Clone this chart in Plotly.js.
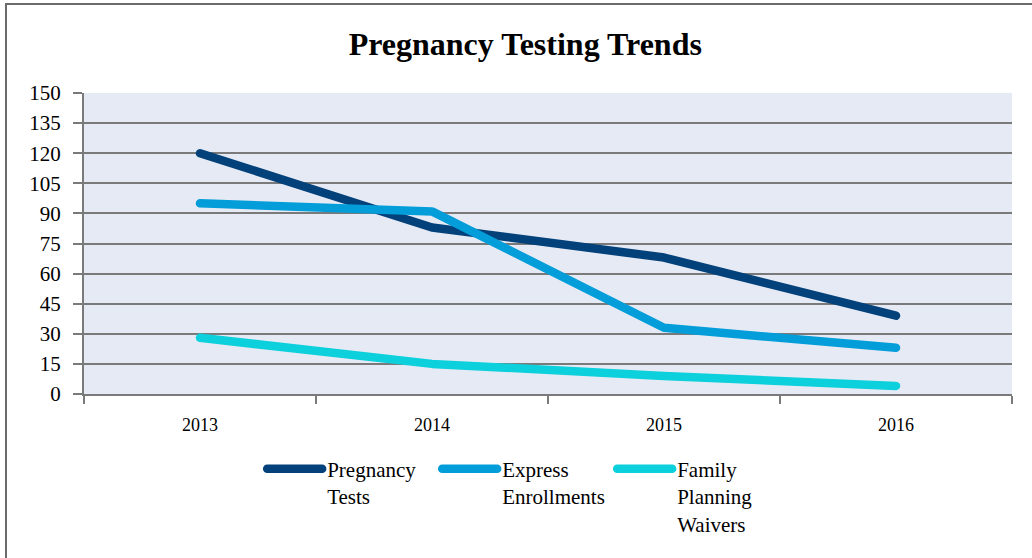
<!DOCTYPE html>
<html><head><meta charset="utf-8">
<script src="https://cdn.plot.ly/plotly-3.0.1.min.js"></script>
<style>
html,body{margin:0;padding:0;background:#fff;}
#wrap{position:relative;width:1032px;height:558px;overflow:hidden;}
#chart{width:1032px;height:558px;}
#frame{position:absolute;left:5px;top:3px;width:1100px;height:700px;border:2px solid #6b6b6b;pointer-events:none;box-sizing:border-box;}
.js-line, .legendlines path{stroke-linecap:round;stroke-linejoin:round;}
</style></head>
<body><div id="wrap"><div id="chart"></div><div id="frame"></div></div>
<script>
const years = ['2013','2014','2015','2016'];
const pregnancyTests = [120, 83, 68, 39];
const expressEnrollments = [95, 91, 33, 23];
const familyPlanningWaivers = [28, 15, 9, 4];
const seriesNames = ['Pregnancy<br>Tests','Express<br>Enrollments','Family<br>Planning<br>Waivers'];
const yTicks = [0,15,30,45,60,75,90,105,120,135,150];

const colors = ['#03417a','#039dd9','#0cd0db'];
const series = [pregnancyTests, expressEnrollments, familyPlanningWaivers];
const data = series.map((vals,i)=>({
  x: years, y: vals, type:'scatter', mode:'lines', name: seriesNames[i],
  line:{color:colors[i], width:8.5, shape:'linear'}
}));
const serif = '"Liberation Serif", "DejaVu Serif", serif';
const layout = {
  width:1032, height:558,
  paper_bgcolor:'#ffffff', plot_bgcolor:'#e6eaf5',
  margin:{l:84, r:20, t:93, b:164},
  title:{text:'<b>Pregnancy Testing Trends</b>', font:{family:serif, size:32, color:'#000'}, x:0.509, xref:'container', xanchor:'center', y:0.922, yref:'container', yanchor:'middle'},
  font:{family:serif, color:'#000'},
  xaxis:{type:'category', range:[-0.5,3.5], tickson:'boundaries', ticks:'outside', ticklen:8, tickwidth:2, tickcolor:'#7a7a7a',
    showline:true, linecolor:'#7a7a7a', linewidth:2, showgrid:false, zeroline:false, ticklabelstandoff:13, automargin:false,
    tickfont:{family:serif, size:18, color:'#000'}, fixedrange:true},
  yaxis:{range:[0,150], tickvals:yTicks, ticktext:yTicks.map(String), ticks:'outside', ticklen:9, tickwidth:2, tickcolor:'#7a7a7a',
    showline:true, linecolor:'#7a7a7a', linewidth:2, showgrid:true, gridcolor:'#7a7a7a', gridwidth:2, zeroline:false, ticklabelstandoff:8, automargin:false,
    tickfont:{family:serif, size:21, color:'#000'}, fixedrange:true},
  showlegend:true,
  legend:{orientation:'h', x:0.192, xanchor:'left', y:0.196, yref:'container', yanchor:'top', valign:'top', font:{family:serif, size:21, color:'#000'},
    itemwidth:55, entrywidth:105, entrywidthmode:'pixels', bgcolor:'rgba(0,0,0,0)', tracegroupgap:0}
};
Plotly.newPlot('chart', data, layout, {displayModeBar:false, staticPlot:true});
</script></body></html>
